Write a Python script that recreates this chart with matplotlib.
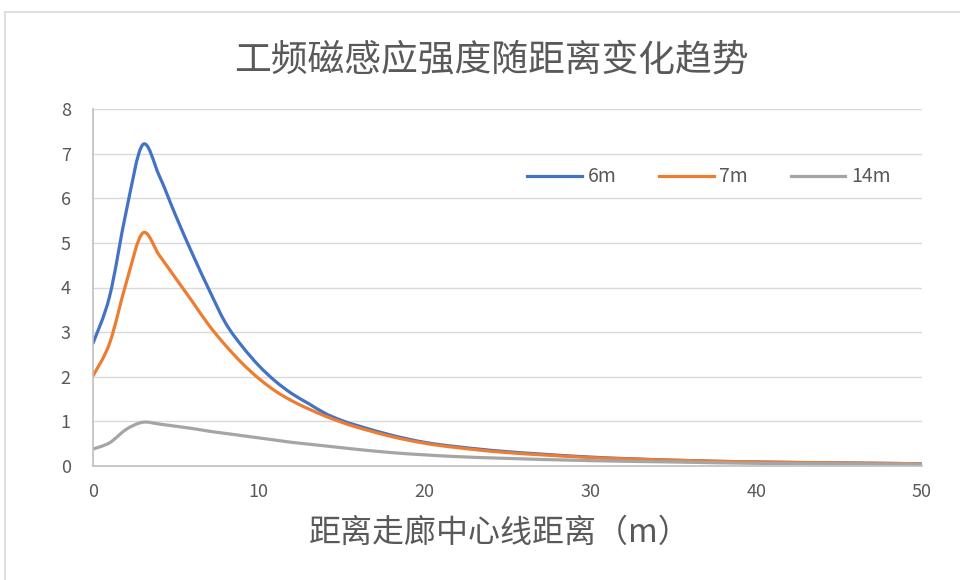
import matplotlib
matplotlib.use("Agg")
import matplotlib.pyplot as plt
from matplotlib.lines import Line2D
from matplotlib.path import Path
from matplotlib.patches import PathPatch

plt.rcParams['font.family'] = ['Noto Sans CJK SC', 'DejaVu Sans']

# 距离走廊中心线距离 (m)
dist = [0, 1, 2, 3, 4, 5, 6, 7, 8, 9, 10, 11, 12, 13, 14, 15, 16,
        18, 20, 22, 25, 30, 35, 40, 45, 50]

b_6m = [2.75, 3.8, 5.7, 7.2, 6.5, 5.6, 4.75, 3.95, 3.2, 2.68, 2.25, 1.9, 1.62,
        1.4, 1.18, 1.02, 0.9, 0.69, 0.53, 0.43, 0.32, 0.2, 0.13, 0.09, 0.07, 0.05]
b_7m = [2.02, 2.75, 4.1, 5.22, 4.72, 4.2, 3.68, 3.15, 2.7, 2.3, 1.96, 1.68, 1.46,
        1.28, 1.12, 0.98, 0.86, 0.66, 0.51, 0.41, 0.3, 0.19, 0.13, 0.09, 0.07, 0.05]
b_14m = [0.38, 0.52, 0.82, 0.98, 0.94, 0.89, 0.84, 0.78, 0.73, 0.68, 0.63, 0.58,
         0.53, 0.49, 0.45, 0.41, 0.37, 0.3, 0.25, 0.21, 0.17, 0.12, 0.09, 0.06,
         0.05, 0.04]

series = [("6m", b_6m, "#4472C4"), ("7m", b_7m, "#ED7D31"), ("14m", b_14m, "#A5A5A5")]


def smooth_path(xs, ys):
    # 类似 Excel 平滑线：贝塞尔曲线经过每个数据点
    pts = list(zip(xs, ys))
    verts = [pts[0]]
    codes = [Path.MOVETO]
    n = len(pts)
    for i in range(n - 1):
        p0 = pts[i - 1] if i > 0 else pts[i]
        p1 = pts[i]
        p2 = pts[i + 1]
        p3 = pts[i + 2] if i + 2 < n else pts[i + 1]
        c1 = (p1[0] + (p2[0] - p0[0]) / 6, p1[1] + (p2[1] - p0[1]) / 6)
        c2 = (p2[0] - (p3[0] - p1[0]) / 6, p2[1] - (p3[1] - p1[1]) / 6)
        verts += [c1, c2, p2]
        codes += [Path.CURVE4] * 3
    return Path(verts, codes)


fig = plt.figure(figsize=(9.6, 5.8), dpi=100)
ax = fig.add_axes([93/960, 1-466/580, (922-93)/960, (466-109)/580])

for name, vals, c in series:
    ax.add_patch(PathPatch(smooth_path(dist, vals), facecolor='none', edgecolor=c,
                           lw=2.3, capstyle='round', joinstyle='round'))
    ax.plot([], [], color=c, lw=2.3, label=name)

ax.set_xlim(0, 50)
ax.set_ylim(0, 8)
ax.set_xticks(range(0, 51, 10))
ax.set_yticks(range(0, 9))
ax.grid(axis='y', color='#d9d9d9', lw=1)
ax.set_axisbelow(True)
for s in ['top', 'right']:
    ax.spines[s].set_visible(False)
for s in ['left', 'bottom']:
    ax.spines[s].set_color('#bfbfbf')
    ax.spines[s].set_linewidth(1.2)
ax.tick_params(length=0, labelsize=13, colors='#595959')
ax.tick_params(axis='x', pad=12)
ax.tick_params(axis='y', pad=16)

fig.text(491/960, 1-60/580, "工频磁感应强度随距离变化趋势", ha='center', va='center',
         fontsize=26.5, color='#595959', fontweight='light')
fig.text(500/960, 1-533/580, "距离走廊中心线距离（m）", ha='center', va='center',
         fontsize=23, color='#595959', fontweight='light')

ax.legend(loc='center', bbox_to_anchor=(709/960, 1-177/580), bbox_transform=fig.transFigure,
          ncol=3, frameon=False, fontsize=14, handlelength=2.8, handletextpad=0.3,
          columnspacing=2.2, labelcolor='#595959')

# 图表外框
fig.add_artist(Line2D([5/960, 1], [1-12/580, 1-12/580], color='#d9d9d9', lw=1.2))
fig.add_artist(Line2D([5/960, 5/960], [0, 1-12/580], color='#d9d9d9', lw=1.2))

fig.savefig("out.png", dpi=100, facecolor='white')
